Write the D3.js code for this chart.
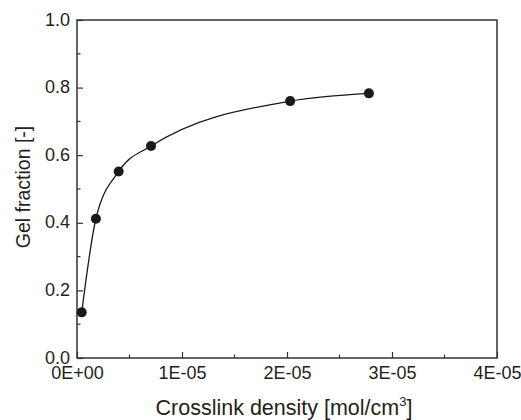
<!DOCTYPE html>
<html>
<head>
<meta charset="utf-8">
<script src="https://cdn.jsdelivr.net/npm/d3@7"></script>
<style>
body { margin: 0; background: #fff; }
text { font-family: "Liberation Sans", Arial, sans-serif; fill: #231f20; }
</style>
</head>
<body>
<div id="chart"></div>
<script>
// measured points
var density = [4.5e-7, 1.8e-6, 3.97e-6, 7.05e-6, 2.03e-5, 2.78e-5];
var gelFraction = [0.135, 0.412, 0.552, 0.627, 0.760, 0.783];
var xTicks = [0, 1e-5, 2e-5, 3e-5, 4e-5];
var xTickLabels = ["0E+00", "1E-05", "2E-05", "3E-05", "4E-05"];
var yTicks = [0, 0.2, 0.4, 0.6, 0.8, 1.0];

var width = 521, height = 420;
var margin = {left: 77, right: 24, top: 20, bottom: 62};

var svg = d3.select("#chart").append("svg")
    .attr("width", width)
    .attr("height", height);

var x = d3.scaleLinear().domain([0, 4e-5]).range([margin.left, width - margin.right]);
var y = d3.scaleLinear().domain([0, 1]).range([height - margin.bottom, margin.top]);

var ink = "#333";

// minor ticks
var xMinor = d3.range(0.5e-5, 4e-5, 1e-5);
var yMinor = d3.range(0.1, 1, 0.2);

var xAxis = d3.axisBottom(x).tickValues(xTicks).tickSizeInner(-6).tickSizeOuter(0)
    .tickFormat(function (d, i) { return xTickLabels[i]; });
var gx = svg.append("g")
    .attr("transform", "translate(0," + y(0) + ")")
    .call(xAxis);
gx.selectAll("text").attr("dy", null).attr("y", 21).style("font-size", "18px");

var yAxis = d3.axisLeft(y).tickValues(yTicks).tickSizeInner(-6).tickSizeOuter(0)
    .tickFormat(d3.format(".1f"));
var gy = svg.append("g")
    .attr("transform", "translate(" + x(0) + ",0)")
    .call(yAxis);
gy.selectAll("text").attr("x", -7).attr("dy", "0.28em").style("font-size", "18px");

svg.selectAll(".domain").remove();
svg.selectAll(".tick line").attr("stroke", ink).attr("stroke-width", 1.2);

svg.append("g").selectAll("line")
    .data(xMinor).enter().append("line")
    .attr("x1", function (d) { return x(d); })
    .attr("x2", function (d) { return x(d); })
    .attr("y1", y(0)).attr("y2", y(0) - 3.5)
    .attr("stroke", ink).attr("stroke-width", 1.2);

svg.append("g").selectAll("line")
    .data(yMinor).enter().append("line")
    .attr("y1", function (d) { return y(d); })
    .attr("y2", function (d) { return y(d); })
    .attr("x1", x(0)).attr("x2", x(0) + 3.5)
    .attr("stroke", ink).attr("stroke-width", 1.2);

// frame
svg.append("rect")
    .attr("x", x(0)).attr("y", y(1))
    .attr("width", x(4e-5) - x(0)).attr("height", y(0) - y(1))
    .attr("fill", "none").attr("stroke", ink).attr("stroke-width", 1.5);

// fitted curve
var pts = density.map(function (d, i) { return [d, gelFraction[i]]; });
var line = d3.line()
    .x(function (d) { return x(d[0]); })
    .y(function (d) { return y(d[1]); })
    .curve(d3.curveMonotoneX);
svg.append("path")
    .datum(pts)
    .attr("d", line)
    .attr("fill", "none")
    .attr("stroke", "#1a1a1a")
    .attr("stroke-width", 1.3);

svg.append("g").selectAll("circle")
    .data(pts).enter().append("circle")
    .attr("cx", function (d) { return x(d[0]); })
    .attr("cy", function (d) { return y(d[1]); })
    .attr("r", 5)
    .attr("fill", "#1a1a1a");

// axis titles
var xt = svg.append("text")
    .attr("x", 284)
    .attr("y", 415)
    .attr("text-anchor", "middle")
    .style("font-size", "21.5px");
xt.append("tspan").text("Crosslink density [mol/cm");
xt.append("tspan").attr("dy", -9).style("font-size", "13px").text("3");
xt.append("tspan").attr("dy", 9).text("]");

svg.append("text")
    .attr("transform", "translate(30,187) rotate(-90)")
    .attr("text-anchor", "middle")
    .style("font-size", "19.5px")
    .text("Gel fraction [-]");
</script>
</body>
</html>
